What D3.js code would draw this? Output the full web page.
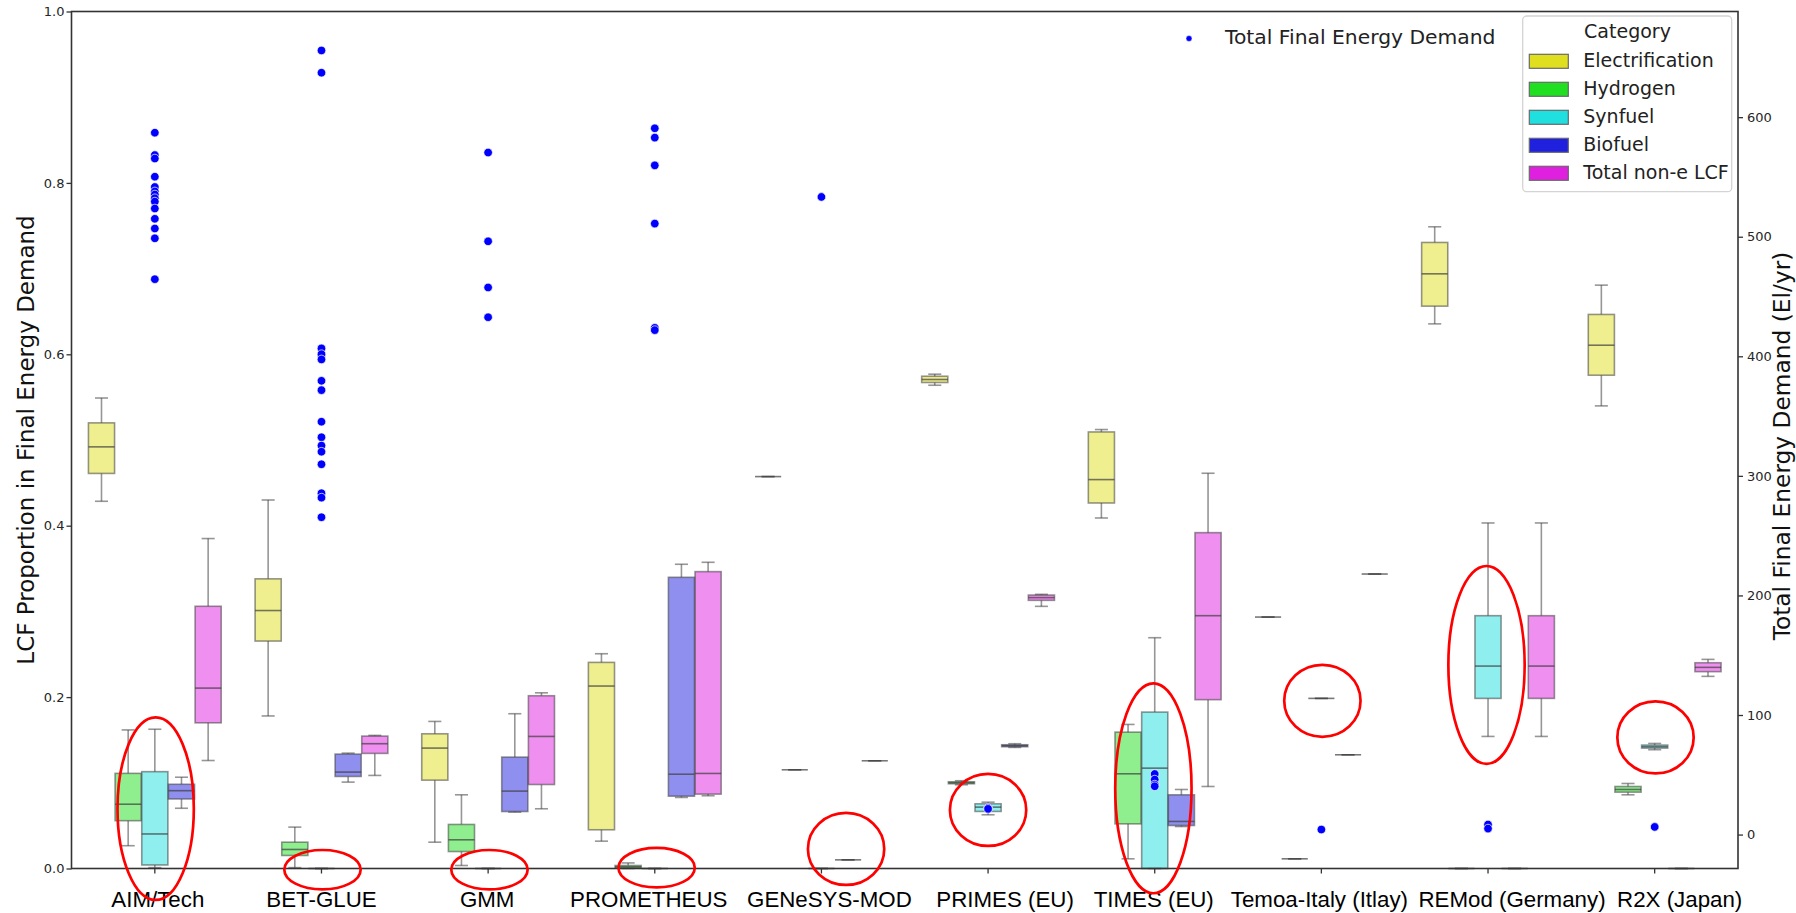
<!DOCTYPE html>
<html>
<head>
<meta charset="utf-8">
<script src="https://cdn.jsdelivr.net/npm/d3@7"></script>
<style>
  html, body { margin: 0; padding: 0; background: #fff; }
  svg { display: block; font-family: "DejaVu Sans", sans-serif; }
</style>
</head>
<body>
<svg id="chart" width="1796" height="913"></svg>
<script>
// ---- data -------------------------------------------------------------
const models = ["AIM/Tech", "BET-GLUE", "GMM", "PROMETHEUS", "GENeSYS-MOD",
  "PRIMES (EU)", "TIMES (EU)", "Temoa-Italy (Itlay)", "REMod (Germany)", "R2X (Japan)"];

const categories = ["Electrification", "Hydrogen", "Synfuel", "Biofuel", "Total non-e LCF"];

// five-number summaries per model: [low whisker, q1, median, q3, high whisker]
const electrification = [
  [0.4285, 0.461, 0.492, 0.520, 0.549],
  [0.178, 0.2654, 0.301, 0.338, 0.430],
  [0.0307, 0.1031, 0.1405, 0.1572, 0.1716],
  [0.0319, 0.0452, 0.2129, 0.2405, 0.2506],
  [0.4573, 0.4573, 0.4573, 0.4573, 0.4573],
  [0.5639, 0.5671, 0.5706, 0.5744, 0.5768],
  [0.409, 0.4265, 0.4538, 0.5094, 0.5122],
  [0.2934, 0.2934, 0.2934, 0.2934, 0.2934],
  [0.6355, 0.6562, 0.6939, 0.7305, 0.7488],
  [0.5398, 0.5756, 0.6106, 0.6465, 0.6807]
];
const hydrogen = [
  [0.0266, 0.0558, 0.075, 0.111, 0.1617],
  [0.001, 0.0152, 0.0222, 0.0307, 0.0483],
  [0.0035, 0.0198, 0.0335, 0.0514, 0.086],
  [0.0, 0.0005, 0.002, 0.0035, 0.0065],
  [0.1152, 0.1152, 0.1152, 0.1152, 0.1152],
  [0.0977, 0.0989, 0.1001, 0.1012, 0.1024],
  [0.0113, 0.0521, 0.1105, 0.1591, 0.1681],
  [0.0113, 0.0113, 0.0113, 0.0113, 0.0113],
  [0, 0, 0, 0, 0],
  [0.086, 0.0891, 0.0922, 0.0957, 0.0992]
];
const synfuel = [
  [0.001, 0.0041, 0.0403, 0.113, 0.1625],
  [0, 0, 0, 0, 0],
  [0, 0, 0, 0, 0],
  [0, 0, 0, 0, 0],
  [0, 0, 0, 0, 0],
  [0.0627, 0.0666, 0.0716, 0.0755, 0.0774],
  [0, 0, 0.1171, 0.1825, 0.2693],
  [0.1985, 0.1985, 0.1985, 0.1985, 0.1985],
  [0.1541, 0.1985, 0.2362, 0.295, 0.4032],
  [0.1386, 0.1405, 0.1421, 0.144, 0.1459]
];
const biofuel = [
  [0.0703, 0.0811, 0.0908, 0.0983, 0.1065],
  [0.1008, 0.1074, 0.1125, 0.1335, 0.1346],
  [0.0658, 0.0665, 0.0903, 0.130, 0.1806],
  [0.0829, 0.0844, 0.110, 0.3398, 0.355],
  [0.0101, 0.0101, 0.0101, 0.0101, 0.0101],
  [0.1413, 0.1421, 0.1433, 0.1444, 0.1456],
  [0.049, 0.0502, 0.0549, 0.086, 0.0922],
  [0.1327, 0.1327, 0.1327, 0.1327, 0.1327],
  [0, 0, 0, 0, 0],
  [0, 0, 0, 0, 0]
];
const totalNonE = [
  [0.126, 0.170, 0.2105, 0.306, 0.385],
  [0.1086, 0.1343, 0.1456, 0.1545, 0.1553],
  [0.0697, 0.098, 0.1541, 0.2016, 0.205],
  [0.0849, 0.0868, 0.1109, 0.3464, 0.3573],
  [0.1257, 0.1257, 0.1257, 0.1257, 0.1257],
  [0.3059, 0.3129, 0.3161, 0.3191, 0.3199],
  [0.0957, 0.197, 0.295, 0.3919, 0.4612],
  [0.3436, 0.3436, 0.3436, 0.3436, 0.3436],
  [0.1541, 0.1985, 0.2362, 0.295, 0.4032],
  [0.2242, 0.2297, 0.2347, 0.2401, 0.244]
];

// Total final energy demand per scenario (EJ/yr), one list per model
const demandPoints = [
  [587, 568.3, 565.4, 550.2, 541.6, 537.9, 535.3, 532.2, 529.4, 523.6, 515, 506.9, 498.7, 464.5],
  [655.8, 637.2, 406.6, 401.8, 397.4, 379.5, 371.7, 345.3, 332.3, 325.3, 320.2, 309.7, 285.5, 281.8, 265.4],
  [570.4, 496.2, 457.6, 432.7],
  [590.7, 582.9, 559.7, 511, 423.8, 421.9],
  [533.3],
  [22.3, 21.5],
  [50.7, 46, 41.8, 40.4],
  [4.2],
  [8.4, 5.0],
  [6.4]
];

const leftTicks = [0, 0.2, 0.4, 0.6, 0.8, 1.0];
const rightTicks = [0, 100, 200, 300, 400, 500, 600];

// red call-out rings: model, horizontal shift (in category widths),
// centre value and half height on the left (proportion) axis
const highlights = [
  { model: "AIM/Tech", shift: 0.005, center: 0.0698, half: 0.1065 },
  { model: "BET-GLUE", shift: 0.006, center: -0.0014, half: 0.023 },
  { model: "GMM", shift: 0.008, center: -0.0014, half: 0.023 },
  { model: "PROMETHEUS", shift: 0.011, center: 0.001, half: 0.023 },
  { model: "GENeSYS-MOD", shift: 0.148, center: 0.0228, half: 0.042 },
  { model: "PRIMES (EU)", shift: 0.0, center: 0.0683, half: 0.042 },
  { model: "TIMES (EU)", shift: -0.008, center: 0.0936, half: 0.1225 },
  { model: "Temoa-Italy (Itlay)", shift: 0.006, center: 0.1957, half: 0.042 },
  { model: "REMod (Germany)", shift: -0.009, center: 0.2375, half: 0.1155 },
  { model: "R2X (Japan)", shift: 0.005, center: 0.1529, half: 0.042 }
];

// ---- layout & style ----------------------------------------------------
const palette = ["#dfdf20", "#20df20", "#20dfdf", "#2020df", "#df20df"];
const plot = { left: 71.5, right: 1738, top: 11.5, bottom: 868.5 };
const labelNudge = [3, 0, -1, -6, 8, 17, -1, -2, 24, 25];   // px, keeps long tick labels apart
const lineGray = "#3f3f3f";

const series = [electrification, hydrogen, synfuel, biofuel, totalNonE];

const svg = d3.select("#chart");

const x = d3.scaleBand().domain(models).range([plot.left, plot.right]).padding(0);
const bw = x.bandwidth();
const hue = d3.scaleBand().domain(categories).range([0.1 * bw, 0.9 * bw]).padding(0);
const boxW = hue.bandwidth() * 0.98;
const capW = boxW * 0.5;

const y = d3.scaleLinear().domain([0, 1]).range([plot.bottom, plot.top]);

const allDemand = demandPoints.flat();
const [dMin, dMax] = d3.extent(allDemand);
const dPad = (dMax - dMin) * 0.05;
const y2 = d3.scaleLinear().domain([dMin - dPad, dMax + dPad]).range([plot.bottom, plot.top]);

// ---- boxes --------------------------------------------------------------
const boxData = [];
series.forEach((s, ci) => {
  s.forEach((v, mi) => {
    boxData.push({ model: models[mi], cat: categories[ci], ci, v });
  });
});

const boxG = svg.append("g").attr("class", "boxes");
const bx = d => x(d.model) + hue(d.cat) + hue.bandwidth() / 2;

const g = boxG.selectAll("g.box").data(boxData).join("g").attr("class", "box");

// whiskers
g.append("line")
  .attr("x1", bx).attr("x2", bx)
  .attr("y1", d => y(d.v[3])).attr("y2", d => y(d.v[4]))
  .attr("stroke", lineGray).attr("stroke-opacity", 0.55).attr("stroke-width", 1.6);
g.append("line")
  .attr("x1", bx).attr("x2", bx)
  .attr("y1", d => y(d.v[1])).attr("y2", d => y(d.v[0]))
  .attr("stroke", lineGray).attr("stroke-opacity", 0.55).attr("stroke-width", 1.6);
// caps
[0, 4].forEach(k => {
  g.append("line")
    .attr("x1", d => bx(d) - capW / 2).attr("x2", d => bx(d) + capW / 2)
    .attr("y1", d => y(d.v[k])).attr("y2", d => y(d.v[k]))
    .attr("stroke", lineGray).attr("stroke-opacity", 0.55).attr("stroke-width", 1.6);
});
// box body
g.append("rect")
  .attr("x", d => bx(d) - boxW / 2)
  .attr("width", boxW)
  .attr("y", d => y(d.v[3]))
  .attr("height", d => Math.max(0, y(d.v[1]) - y(d.v[3])))
  .attr("fill", d => palette[d.ci]).attr("fill-opacity", 0.5)
  .attr("stroke", lineGray).attr("stroke-opacity", 0.55).attr("stroke-width", 1.6);
// median
g.append("line")
  .attr("x1", d => bx(d) - boxW / 2).attr("x2", d => bx(d) + boxW / 2)
  .attr("y1", d => y(d.v[2])).attr("y2", d => y(d.v[2]))
  .attr("stroke", lineGray).attr("stroke-opacity", 0.7).attr("stroke-width", 1.6);

// ---- demand points (right axis) ------------------------------------------
const pts = [];
demandPoints.forEach((arr, mi) => arr.forEach(v => pts.push({ model: models[mi], v })));
svg.append("g").attr("class", "demand")
  .selectAll("circle").data(pts).join("circle")
  .attr("cx", d => x(d.model) + bw / 2)
  .attr("cy", d => y2(d.v))
  .attr("r", 4.3)
  .attr("fill", "#0000ff")
  .attr("stroke", "#ffffff").attr("stroke-width", 0.7);

// ---- axes ---------------------------------------------------------------
const axisColor = "#333333";
const tickText = "#262626";

const leftAxis = svg.append("g")
  .attr("transform", `translate(${plot.left},0)`)
  .call(d3.axisLeft(y).tickValues(leftTicks).tickFormat(d3.format(".1f")).tickSize(5).tickPadding(2));
const rightAxis = svg.append("g")
  .attr("transform", `translate(${plot.right},0)`)
  .call(d3.axisRight(y2).tickValues(rightTicks).tickFormat(d3.format("d")).tickSize(5).tickPadding(4));
const bottomAxis = svg.append("g")
  .attr("transform", `translate(0,${plot.bottom})`)
  .call(d3.axisBottom(x).tickSize(5).tickPadding(0));

[leftAxis, rightAxis].forEach(a => {
  a.select(".domain").remove();
  a.selectAll(".tick line").attr("stroke", axisColor).attr("stroke-width", 1.3);
  a.selectAll(".tick text")
    .attr("fill", tickText)
    .style("font-family", "'DejaVu Sans', sans-serif")
    .style("font-size", "13px");
});
bottomAxis.select(".domain").remove();
bottomAxis.selectAll(".tick line").attr("stroke", axisColor).attr("stroke-width", 1.3);
bottomAxis.selectAll(".tick text")
  .attr("fill", "#000")
  .attr("y", 38.5).attr("dy", 0)
  .attr("x", (d, i) => labelNudge[i])
  .style("font-family", "'Liberation Sans', Arial, sans-serif")
  .style("font-size", "22.3px");

// frame
svg.append("rect")
  .attr("x", plot.left).attr("y", plot.top)
  .attr("width", plot.right - plot.left).attr("height", plot.bottom - plot.top)
  .attr("fill", "none").attr("stroke", axisColor).attr("stroke-width", 1.6);

// axis titles
svg.append("text")
  .attr("transform", `translate(33.5,${(plot.top + plot.bottom) / 2}) rotate(-90)`)
  .attr("text-anchor", "middle")
  .attr("fill", "#111")
  .style("font-size", "23px")
  .text("LCF Proportion in Final Energy Demand");
svg.append("text")
  .attr("transform", `translate(1789.5,${(plot.top + plot.bottom) / 2 + 6}) rotate(-90)`)
  .attr("text-anchor", "middle")
  .attr("fill", "#111")
  .style("font-size", "23.3px")
  .text("Total Final Energy Demand (El/yr)");

// ---- legends -------------------------------------------------------------
const leg = svg.append("g").attr("class", "legend");
leg.append("rect")
  .attr("x", 1522.7).attr("y", 16).attr("width", 209).attr("height", 175.7)
  .attr("rx", 4).attr("fill", "#fff").attr("fill-opacity", 0.85)
  .attr("stroke", "#d4d4d4").attr("stroke-width", 1.3);
leg.append("text")
  .attr("x", 1627.5).attr("y", 38.3).attr("text-anchor", "middle")
  .attr("fill", "#222").style("font-size", "19px").text("Category");
const items = leg.selectAll("g.item").data(categories).join("g")
  .attr("class", "item")
  .attr("transform", (d, i) => `translate(0,${67.3 + i * 28})`);
items.append("rect")
  .attr("x", 1529.3).attr("y", -13).attr("width", 39).attr("height", 14)
  .attr("fill", (d, i) => palette[i])
  .attr("stroke", "#6a6a6a").attr("stroke-width", 1.2);
items.append("text")
  .attr("x", 1583.3).attr("y", 0)
  .attr("fill", "#222").style("font-size", "19px")
  .text(d => d);

const leg2 = svg.append("g").attr("class", "legend-demand");
leg2.append("circle").attr("cx", 1189).attr("cy", 38.5).attr("r", 3)
  .attr("fill", "#0000ff").attr("stroke", "#fff").attr("stroke-width", 0.5);
leg2.append("text").attr("x", 1225).attr("y", 43.5)
  .attr("fill", "#222").style("font-size", "20.3px")
  .text("Total Final Energy Demand");

// ---- call-out rings ------------------------------------------------------
svg.append("g").attr("class", "highlights")
  .selectAll("ellipse").data(highlights).join("ellipse")
  .attr("cx", d => x(d.model) + bw / 2 + d.shift * bw)
  .attr("cy", d => y(d.center))
  .attr("rx", 0.229 * bw)
  .attr("ry", d => y(0) - y(d.half))
  .attr("fill", "none")
  .attr("stroke", "#ff0000")
  .attr("stroke-width", 2.7);
</script>
</body>
</html>
